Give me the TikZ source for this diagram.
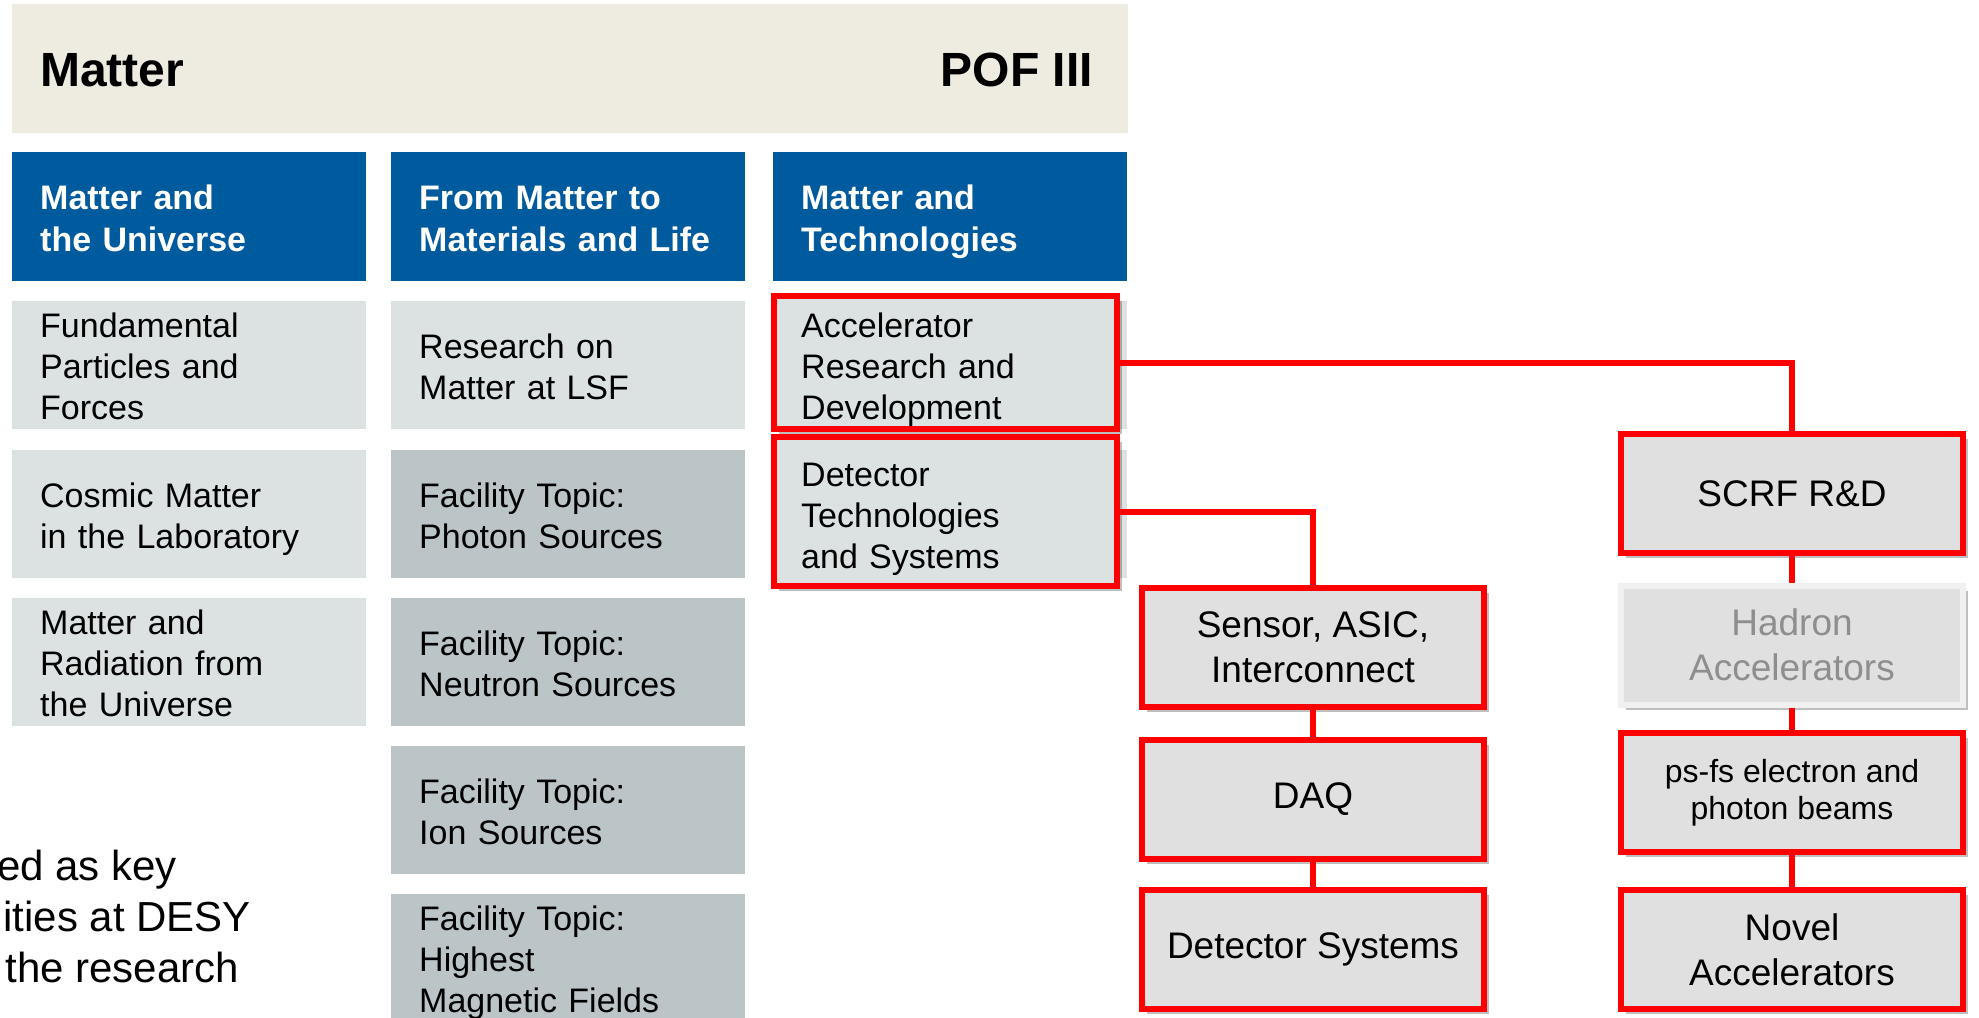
\documentclass[tikz,border=0pt]{standalone}
\usepackage{fontspec}
\setmainfont{Liberation Sans}
\usetikzlibrary{shadows}
\definecolor{bandbeige}{HTML}{EEEBE0}
\definecolor{pofblue}{HTML}{005A9E}
\definecolor{topicgray}{HTML}{DCE1E2}
\definecolor{facilitygray}{HTML}{BBC4C7}
\definecolor{boxgray}{HTML}{E0E0E0}
\definecolor{framered}{HTML}{FF0000}
\definecolor{fadedtext}{HTML}{8E8E8E}
\definecolor{fadedframe}{HTML}{F0F0F0}
% fixed extents so every tile label sits at the same height
\newcommand\tiletopstrut{\rule{0pt}{34bp}}
\newcommand\tilebotstrut{\rule[-7bp]{0pt}{7bp}}
\begin{document}
\begin{tikzpicture}[x=1bp,y=-1bp,
  tile/.style={anchor=north west, minimum width=354bp, minimum height=128bp,
    inner xsep=28bp, inner ysep=0pt, text width=298bp, align=left,
    font=\fontsize{34bp}{41bp}\selectfont,
    execute at begin node=\tiletopstrut, execute at end node=\tilebotstrut},
  hdr/.style={tile, fill=pofblue, text=white, minimum height=129bp,
    font=\bfseries\fontsize{34bp}{42bp}\selectfont},
  topic/.style={tile, fill=topicgray},
  facility/.style={tile, fill=facilitygray},
  softshadow/.style={drop shadow={shadow xshift=5bp, shadow yshift=-5bp,
    fill=black, opacity=0.25}},
  redframe/.style={draw=framered, line width=6bp, fill=topicgray, softshadow,
    minimum width=343bp, inner sep=0pt},
  branch/.style={draw=framered, line width=6bp, fill=boxgray, softshadow,
    minimum width=342bp, minimum height=119bp, align=center,
    font=\fontsize{37bp}{45bp}\selectfont},
  link/.style={draw=framered, line width=6bp},
  note/.style={inner sep=0pt, font=\fontsize{42bp}{51bp}\selectfont},
  headline/.style={inner sep=0pt, font=\bfseries\fontsize{48bp}{48bp}\selectfont}
]
\useasboundingbox (0,0) rectangle (1979,1017);
\clip (0,0) rectangle (1979,1017);

% title band
\fill[bandbeige] (12,4) rectangle (1128,133);
\node[headline, anchor=base west] (title) at (40,86) {Matter};
\node[headline, anchor=base east] (pof) at (1093,86) {POF III};

% programme headers
\node[hdr] (h1) at (12,152) {Matter and\\the Universe};
\node[hdr] (h2) at (391,152) {From Matter to\\Materials and Life};
\node[hdr] (h3) at (773,152) {Matter and\\Technologies};

% first programme
\node[topic] (fund) at (12,301) {Fundamental\\Particles and\\Forces};
\node[topic] (cosmic) at (12,450) {Cosmic Matter\\in the Laboratory};
\node[topic] (radiation) at (12,598) {Matter and\\Radiation from\\the Universe};

% second programme
\node[topic] (lsf) at (391,301) {Research on\\Matter at LSF};
\node[facility] (photon) at (391,450) {Facility Topic:\\Photon Sources};
\node[facility] (neutron) at (391,598) {Facility Topic:\\Neutron Sources};
\node[facility] (ion) at (391,746) {Facility Topic:\\Ion Sources};
\node[facility] (magnet) at (391,894) {Facility Topic:\\Highest\\Magnetic Fields};

% third programme: tiles, red highlight frames, then the labels on top
\node[topic] (t3a) at (773,301) {};
\node[topic] (t3b) at (773,450) {};
\node[redframe, minimum height=133bp] (accel) at (945.5,362.5) {};
\node[redframe, minimum height=149bp] (detector) at (945.5,511.5) {};
\node[tile] (acceltext) at (773,301) {Accelerator\\Research and\\Development};
\node[tile] (dettext) at (773,450) {Detector\\Technologies\\and Systems};

% detector branch
\node[branch] (sensor) at (1313,647.5) {Sensor, ASIC,\\Interconnect};
\node[branch] (daq) at (1313,799.5) {DAQ};
\node[branch] (detsys) at (1313,949.5) {Detector Systems};

% accelerator branch
\node[branch] (scrf) at (1792,493.5) {SCRF R\&D};
\node[branch, draw=fadedframe, text=fadedtext] (hadron) at (1792,645)
  {Hadron\\Accelerators};
\node[branch, font=\fontsize{32bp}{37bp}\selectfont] (psfs) at (1792,792.5)
  {ps-fs electron and\\photon beams};
\node[branch] (novel) at (1792,949.5) {Novel\\Accelerators};

% connectors
\draw[link] (accel.east) -| (scrf.north);
\draw[link] (detector.east) -| (sensor.north);
\draw[link] (sensor.south) -- (daq.north);
\draw[link] (daq.south) -- (detsys.north);
\draw[link] (scrf.south) -- (hadron.north);
\draw[link] (hadron.south) -- (psfs.north);
\draw[link] (psfs.south) -- (novel.north);

% side text
\node[note, anchor=base east] (noteA) at (177,880) {ed as key};
\node[note, anchor=base east] (noteB) at (251,931) {ities at DESY};
\node[note, anchor=base east] (noteC) at (239,982) {the research};
\end{tikzpicture}
\end{document}
